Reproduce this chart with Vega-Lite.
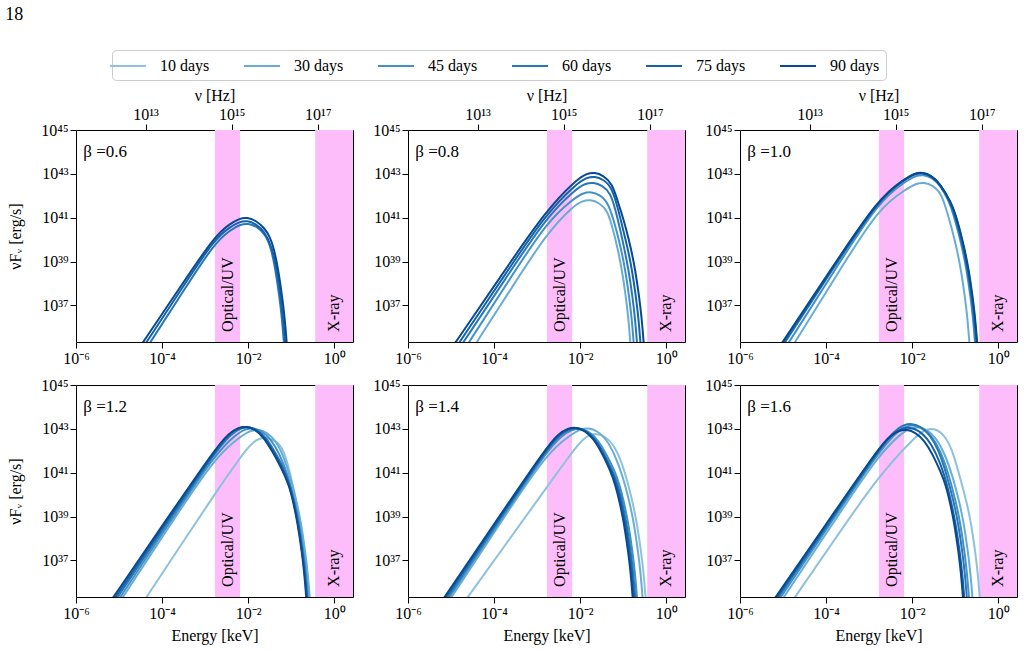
{
"$schema": "https://vega.github.io/schema/vega-lite/v6.json",
"background": "white",
"padding": {"left": 5, "top": 5, "right": 5, "bottom": 5},
"title": {"text": "18", "anchor": "start", "frame": "bounds", "font": "Liberation Serif", "fontSize": 18, "fontWeight": "normal", "color": "black", "offset": 26, "dx": -2},
"datasets": {
"bands": [
{"band": "Optical/UV", "logE0": -2.773, "logE1": -2.188, "logEc": -2.48, "logLt": 35.79},
{"band": "X-ray", "logE0": -0.443, "logE1": 1, "logEc": 0.0, "logLt": 35.79}
],
"curves": [
{"beta":0.6,"days":"60 days","logE":-4.42,"logL":34.87},{"beta":0.6,"days":"60 days","logE":-4.27,"logL":35.33},{"beta":0.6,"days":"60 days","logE":-3.52,"logL":37.61},{"beta":0.6,"days":"60 days","logE":-2.77,"logL":39.89},{"beta":0.6,"days":"60 days","logE":-2.40,"logL":40.45},{"beta":0.6,"days":"60 days","logE":-2.20,"logL":40.68},{"beta":0.6,"days":"60 days","logE":-2.00,"logL":40.75},{"beta":0.6,"days":"60 days","logE":-1.80,"logL":40.60},{"beta":0.6,"days":"60 days","logE":-1.60,"logL":40.25},{"beta":0.6,"days":"60 days","logE":-1.47,"logL":39.63},{"beta":0.6,"days":"60 days","logE":-1.37,"logL":38.68},{"beta":0.6,"days":"60 days","logE":-1.27,"logL":37.33},{"beta":0.6,"days":"60 days","logE":-1.22,"logL":36.48},{"beta":0.6,"days":"60 days","logE":-1.17,"logL":35.33},{"beta":0.6,"days":"60 days","logE":-1.13,"logL":34.23},
{"beta":0.6,"days":"75 days","logE":-4.51,"logL":34.88},{"beta":0.6,"days":"75 days","logE":-4.36,"logL":35.33},{"beta":0.6,"days":"75 days","logE":-3.565,"logL":37.70},{"beta":0.6,"days":"75 days","logE":-2.77,"logL":40.07},{"beta":0.6,"days":"75 days","logE":-2.42,"logL":40.57},{"beta":0.6,"days":"75 days","logE":-2.22,"logL":40.80},{"beta":0.6,"days":"75 days","logE":-2.02,"logL":40.87},{"beta":0.6,"days":"75 days","logE":-1.82,"logL":40.72},{"beta":0.6,"days":"75 days","logE":-1.62,"logL":40.37},{"beta":0.6,"days":"75 days","logE":-1.44,"logL":39.63},{"beta":0.6,"days":"75 days","logE":-1.34,"logL":38.68},{"beta":0.6,"days":"75 days","logE":-1.24,"logL":37.33},{"beta":0.6,"days":"75 days","logE":-1.19,"logL":36.48},{"beta":0.6,"days":"75 days","logE":-1.14,"logL":35.33},{"beta":0.6,"days":"75 days","logE":-1.10,"logL":34.23},
{"beta":0.6,"days":"90 days","logE":-4.59,"logL":34.89},{"beta":0.6,"days":"90 days","logE":-4.44,"logL":35.33},{"beta":0.6,"days":"90 days","logE":-3.605,"logL":37.76},{"beta":0.6,"days":"90 days","logE":-2.77,"logL":40.19},{"beta":0.6,"days":"90 days","logE":-2.42,"logL":40.72},{"beta":0.6,"days":"90 days","logE":-2.22,"logL":40.95},{"beta":0.6,"days":"90 days","logE":-2.02,"logL":41.02},{"beta":0.6,"days":"90 days","logE":-1.82,"logL":40.87},{"beta":0.6,"days":"90 days","logE":-1.62,"logL":40.52},{"beta":0.6,"days":"90 days","logE":-1.505,"logL":40.17},{"beta":0.6,"days":"90 days","logE":-1.405,"logL":39.63},{"beta":0.6,"days":"90 days","logE":-1.305,"logL":38.68},{"beta":0.6,"days":"90 days","logE":-1.205,"logL":37.33},{"beta":0.6,"days":"90 days","logE":-1.155,"logL":36.48},{"beta":0.6,"days":"90 days","logE":-1.105,"logL":35.33},{"beta":0.6,"days":"90 days","logE":-1.065,"logL":34.23},

{"beta":0.8,"days":"30 days","logE":-4.55,"logL":34.87},{"beta":0.8,"days":"30 days","logE":-4.40,"logL":35.33},{"beta":0.8,"days":"30 days","logE":-3.585,"logL":37.82},{"beta":0.8,"days":"30 days","logE":-2.77,"logL":40.31},{"beta":0.8,"days":"30 days","logE":-2.16,"logL":41.53},{"beta":0.8,"days":"30 days","logE":-1.96,"logL":41.76},{"beta":0.8,"days":"30 days","logE":-1.76,"logL":41.83},{"beta":0.8,"days":"30 days","logE":-1.56,"logL":41.68},{"beta":0.8,"days":"30 days","logE":-1.36,"logL":41.33},{"beta":0.8,"days":"30 days","logE":-1.234,"logL":40.43},{"beta":0.8,"days":"30 days","logE":-1.134,"logL":39.63},{"beta":0.8,"days":"30 days","logE":-1.034,"logL":38.68},{"beta":0.8,"days":"30 days","logE":-0.934,"logL":37.33},{"beta":0.8,"days":"30 days","logE":-0.884,"logL":36.48},{"beta":0.8,"days":"30 days","logE":-0.834,"logL":35.33},{"beta":0.8,"days":"30 days","logE":-0.794,"logL":34.23},
{"beta":0.8,"days":"45 days","logE":-4.73,"logL":34.87},{"beta":0.8,"days":"45 days","logE":-4.58,"logL":35.33},{"beta":0.8,"days":"45 days","logE":-3.675,"logL":38.08},{"beta":0.8,"days":"45 days","logE":-2.77,"logL":40.83},{"beta":0.8,"days":"45 days","logE":-2.14,"logL":41.89},{"beta":0.8,"days":"45 days","logE":-1.94,"logL":42.12},{"beta":0.8,"days":"45 days","logE":-1.74,"logL":42.19},{"beta":0.8,"days":"45 days","logE":-1.54,"logL":42.04},{"beta":0.8,"days":"45 days","logE":-1.34,"logL":41.69},{"beta":0.8,"days":"45 days","logE":-1.157,"logL":40.43},{"beta":0.8,"days":"45 days","logE":-1.057,"logL":39.63},{"beta":0.8,"days":"45 days","logE":-0.957,"logL":38.68},{"beta":0.8,"days":"45 days","logE":-0.857,"logL":37.33},{"beta":0.8,"days":"45 days","logE":-0.807,"logL":36.48},{"beta":0.8,"days":"45 days","logE":-0.757,"logL":35.33},{"beta":0.8,"days":"45 days","logE":-0.717,"logL":34.23},
{"beta":0.8,"days":"60 days","logE":-4.86,"logL":34.89},{"beta":0.8,"days":"60 days","logE":-4.71,"logL":35.33},{"beta":0.8,"days":"60 days","logE":-3.74,"logL":38.20},{"beta":0.8,"days":"60 days","logE":-2.77,"logL":41.07},{"beta":0.8,"days":"60 days","logE":-2.09,"logL":42.32},{"beta":0.8,"days":"60 days","logE":-1.89,"logL":42.55},{"beta":0.8,"days":"60 days","logE":-1.69,"logL":42.62},{"beta":0.8,"days":"60 days","logE":-1.49,"logL":42.47},{"beta":0.8,"days":"60 days","logE":-1.29,"logL":42.12},{"beta":0.8,"days":"60 days","logE":-1.18,"logL":41.35},{"beta":0.8,"days":"60 days","logE":-1.08,"logL":40.55},{"beta":0.8,"days":"60 days","logE":-0.98,"logL":39.63},{"beta":0.8,"days":"60 days","logE":-0.88,"logL":38.68},{"beta":0.8,"days":"60 days","logE":-0.78,"logL":37.33},{"beta":0.8,"days":"60 days","logE":-0.73,"logL":36.48},{"beta":0.8,"days":"60 days","logE":-0.68,"logL":35.33},{"beta":0.8,"days":"60 days","logE":-0.64,"logL":34.23},
{"beta":0.8,"days":"75 days","logE":-4.95,"logL":34.89},{"beta":0.8,"days":"75 days","logE":-4.80,"logL":35.33},{"beta":0.8,"days":"75 days","logE":-3.785,"logL":38.29},{"beta":0.8,"days":"75 days","logE":-2.77,"logL":41.25},{"beta":0.8,"days":"75 days","logE":-2.06,"logL":42.59},{"beta":0.8,"days":"75 days","logE":-1.86,"logL":42.82},{"beta":0.8,"days":"75 days","logE":-1.66,"logL":42.89},{"beta":0.8,"days":"75 days","logE":-1.46,"logL":42.74},{"beta":0.8,"days":"75 days","logE":-1.26,"logL":42.39},{"beta":0.8,"days":"75 days","logE":-1.10,"logL":41.25},{"beta":0.8,"days":"75 days","logE":-1.00,"logL":40.43},{"beta":0.8,"days":"75 days","logE":-0.90,"logL":39.63},{"beta":0.8,"days":"75 days","logE":-0.80,"logL":38.68},{"beta":0.8,"days":"75 days","logE":-0.70,"logL":37.33},{"beta":0.8,"days":"75 days","logE":-0.65,"logL":36.48},{"beta":0.8,"days":"75 days","logE":-0.60,"logL":35.33},{"beta":0.8,"days":"75 days","logE":-0.56,"logL":34.23},
{"beta":0.8,"days":"90 days","logE":-5.04,"logL":34.90},{"beta":0.8,"days":"90 days","logE":-4.89,"logL":35.33},{"beta":0.8,"days":"90 days","logE":-3.83,"logL":38.37},{"beta":0.8,"days":"90 days","logE":-2.77,"logL":41.40},{"beta":0.8,"days":"90 days","logE":-2.06,"logL":42.77},{"beta":0.8,"days":"90 days","logE":-1.86,"logL":43.00},{"beta":0.8,"days":"90 days","logE":-1.66,"logL":43.07},{"beta":0.8,"days":"90 days","logE":-1.46,"logL":42.92},{"beta":0.8,"days":"90 days","logE":-1.26,"logL":42.57},{"beta":0.8,"days":"90 days","logE":-1.125,"logL":41.73},{"beta":0.8,"days":"90 days","logE":-1.025,"logL":41.13},{"beta":0.8,"days":"90 days","logE":-0.925,"logL":40.43},{"beta":0.8,"days":"90 days","logE":-0.825,"logL":39.63},{"beta":0.8,"days":"90 days","logE":-0.725,"logL":38.68},{"beta":0.8,"days":"90 days","logE":-0.625,"logL":37.33},{"beta":0.8,"days":"90 days","logE":-0.575,"logL":36.48},{"beta":0.8,"days":"90 days","logE":-0.525,"logL":35.33},{"beta":0.8,"days":"90 days","logE":-0.485,"logL":34.23},

{"beta":1.0,"days":"30 days","logE":-4.87,"logL":34.86},{"beta":1.0,"days":"30 days","logE":-4.72,"logL":35.33},{"beta":1.0,"days":"30 days","logE":-3.745,"logL":38.41},{"beta":1.0,"days":"30 days","logE":-2.77,"logL":41.48},{"beta":1.0,"days":"30 days","logE":-2.12,"logL":42.32},{"beta":1.0,"days":"30 days","logE":-1.92,"logL":42.55},{"beta":1.0,"days":"30 days","logE":-1.72,"logL":42.62},{"beta":1.0,"days":"30 days","logE":-1.52,"logL":42.47},{"beta":1.0,"days":"30 days","logE":-1.32,"logL":42.12},{"beta":1.0,"days":"30 days","logE":-1.17,"logL":41.13},{"beta":1.0,"days":"30 days","logE":-1.07,"logL":40.43},{"beta":1.0,"days":"30 days","logE":-0.97,"logL":39.63},{"beta":1.0,"days":"30 days","logE":-0.87,"logL":38.68},{"beta":1.0,"days":"30 days","logE":-0.77,"logL":37.33},{"beta":1.0,"days":"30 days","logE":-0.72,"logL":36.48},{"beta":1.0,"days":"30 days","logE":-0.67,"logL":35.33},{"beta":1.0,"days":"30 days","logE":-0.63,"logL":34.23},
{"beta":1.0,"days":"45 days","logE":-5.01,"logL":34.87},{"beta":1.0,"days":"45 days","logE":-4.86,"logL":35.33},{"beta":1.0,"days":"45 days","logE":-3.815,"logL":38.56},{"beta":1.0,"days":"45 days","logE":-2.77,"logL":41.78},{"beta":1.0,"days":"45 days","logE":-2.14,"logL":42.67},{"beta":1.0,"days":"45 days","logE":-1.94,"logL":42.90},{"beta":1.0,"days":"45 days","logE":-1.74,"logL":42.97},{"beta":1.0,"days":"45 days","logE":-1.54,"logL":42.82},{"beta":1.0,"days":"45 days","logE":-1.34,"logL":42.47},{"beta":1.0,"days":"45 days","logE":-1.14,"logL":41.73},{"beta":1.0,"days":"45 days","logE":-1.04,"logL":41.13},{"beta":1.0,"days":"45 days","logE":-0.94,"logL":40.43},{"beta":1.0,"days":"45 days","logE":-0.84,"logL":39.63},{"beta":1.0,"days":"45 days","logE":-0.74,"logL":38.68},{"beta":1.0,"days":"45 days","logE":-0.64,"logL":37.33},{"beta":1.0,"days":"45 days","logE":-0.59,"logL":36.48},{"beta":1.0,"days":"45 days","logE":-0.54,"logL":35.33},{"beta":1.0,"days":"45 days","logE":-0.50,"logL":34.23},
{"beta":1.0,"days":"60 days","logE":-5.10,"logL":34.88},{"beta":1.0,"days":"60 days","logE":-4.95,"logL":35.33},{"beta":1.0,"days":"60 days","logE":-3.86,"logL":38.60},{"beta":1.0,"days":"60 days","logE":-2.77,"logL":41.87},{"beta":1.0,"days":"60 days","logE":-2.16,"logL":42.75},{"beta":1.0,"days":"60 days","logE":-1.96,"logL":42.98},{"beta":1.0,"days":"60 days","logE":-1.76,"logL":43.05},{"beta":1.0,"days":"60 days","logE":-1.56,"logL":42.90},{"beta":1.0,"days":"60 days","logE":-1.36,"logL":42.55},{"beta":1.0,"days":"60 days","logE":-1.12,"logL":41.73},{"beta":1.0,"days":"60 days","logE":-1.02,"logL":41.13},{"beta":1.0,"days":"60 days","logE":-0.92,"logL":40.43},{"beta":1.0,"days":"60 days","logE":-0.82,"logL":39.63},{"beta":1.0,"days":"60 days","logE":-0.72,"logL":38.68},{"beta":1.0,"days":"60 days","logE":-0.62,"logL":37.33},{"beta":1.0,"days":"60 days","logE":-0.57,"logL":36.48},{"beta":1.0,"days":"60 days","logE":-0.52,"logL":35.33},{"beta":1.0,"days":"60 days","logE":-0.48,"logL":34.23},
{"beta":1.0,"days":"75 days","logE":-5.13,"logL":34.88},{"beta":1.0,"days":"75 days","logE":-4.98,"logL":35.33},{"beta":1.0,"days":"75 days","logE":-3.875,"logL":38.62},{"beta":1.0,"days":"75 days","logE":-2.77,"logL":41.90},{"beta":1.0,"days":"75 days","logE":-2.16,"logL":42.77},{"beta":1.0,"days":"75 days","logE":-1.96,"logL":43.00},{"beta":1.0,"days":"75 days","logE":-1.76,"logL":43.07},{"beta":1.0,"days":"75 days","logE":-1.56,"logL":42.92},{"beta":1.0,"days":"75 days","logE":-1.36,"logL":42.57},{"beta":1.0,"days":"75 days","logE":-1.10,"logL":41.71},{"beta":1.0,"days":"75 days","logE":-1.00,"logL":41.13},{"beta":1.0,"days":"75 days","logE":-0.90,"logL":40.43},{"beta":1.0,"days":"75 days","logE":-0.80,"logL":39.63},{"beta":1.0,"days":"75 days","logE":-0.70,"logL":38.68},{"beta":1.0,"days":"75 days","logE":-0.60,"logL":37.33},{"beta":1.0,"days":"75 days","logE":-0.55,"logL":36.48},{"beta":1.0,"days":"75 days","logE":-0.50,"logL":35.33},{"beta":1.0,"days":"75 days","logE":-0.46,"logL":34.23},
{"beta":1.0,"days":"90 days","logE":-5.16,"logL":34.89},{"beta":1.0,"days":"90 days","logE":-5.01,"logL":35.33},{"beta":1.0,"days":"90 days","logE":-3.89,"logL":38.63},{"beta":1.0,"days":"90 days","logE":-2.77,"logL":41.93},{"beta":1.0,"days":"90 days","logE":-2.16,"logL":42.78},{"beta":1.0,"days":"90 days","logE":-1.96,"logL":43.01},{"beta":1.0,"days":"90 days","logE":-1.76,"logL":43.08},{"beta":1.0,"days":"90 days","logE":-1.56,"logL":42.93},{"beta":1.0,"days":"90 days","logE":-1.36,"logL":42.58},{"beta":1.0,"days":"90 days","logE":-1.09,"logL":41.68},{"beta":1.0,"days":"90 days","logE":-0.99,"logL":41.13},{"beta":1.0,"days":"90 days","logE":-0.89,"logL":40.43},{"beta":1.0,"days":"90 days","logE":-0.79,"logL":39.63},{"beta":1.0,"days":"90 days","logE":-0.69,"logL":38.68},{"beta":1.0,"days":"90 days","logE":-0.59,"logL":37.33},{"beta":1.0,"days":"90 days","logE":-0.54,"logL":36.48},{"beta":1.0,"days":"90 days","logE":-0.49,"logL":35.33},{"beta":1.0,"days":"90 days","logE":-0.45,"logL":34.23},

{"beta":1.2,"days":"10 days","logE":-4.51,"logL":34.88},{"beta":1.2,"days":"10 days","logE":-4.36,"logL":35.33},{"beta":1.2,"days":"10 days","logE":-3.565,"logL":37.69},{"beta":1.2,"days":"10 days","logE":-2.77,"logL":40.05},{"beta":1.2,"days":"10 days","logE":-1.97,"logL":42.31},{"beta":1.2,"days":"10 days","logE":-1.77,"logL":42.54},{"beta":1.2,"days":"10 days","logE":-1.57,"logL":42.61},{"beta":1.2,"days":"10 days","logE":-1.37,"logL":42.46},{"beta":1.2,"days":"10 days","logE":-1.17,"logL":42.11},{"beta":1.2,"days":"10 days","logE":-0.98,"logL":40.60},{"beta":1.2,"days":"10 days","logE":-0.88,"logL":39.63},{"beta":1.2,"days":"10 days","logE":-0.78,"logL":38.68},{"beta":1.2,"days":"10 days","logE":-0.68,"logL":37.33},{"beta":1.2,"days":"10 days","logE":-0.63,"logL":36.48},{"beta":1.2,"days":"10 days","logE":-0.58,"logL":35.33},{"beta":1.2,"days":"10 days","logE":-0.54,"logL":34.23},
{"beta":1.2,"days":"30 days","logE":-5.06,"logL":34.88},{"beta":1.2,"days":"30 days","logE":-4.91,"logL":35.33},{"beta":1.2,"days":"30 days","logE":-3.84,"logL":38.53},{"beta":1.2,"days":"30 days","logE":-2.77,"logL":41.72},{"beta":1.2,"days":"30 days","logE":-2.16,"logL":42.68},{"beta":1.2,"days":"30 days","logE":-1.96,"logL":42.91},{"beta":1.2,"days":"30 days","logE":-1.76,"logL":42.98},{"beta":1.2,"days":"30 days","logE":-1.56,"logL":42.83},{"beta":1.2,"days":"30 days","logE":-1.36,"logL":42.48},{"beta":1.2,"days":"30 days","logE":-1.16,"logL":41.68},{"beta":1.2,"days":"30 days","logE":-0.97,"logL":40.43},{"beta":1.2,"days":"30 days","logE":-0.87,"logL":39.63},{"beta":1.2,"days":"30 days","logE":-0.77,"logL":38.68},{"beta":1.2,"days":"30 days","logE":-0.67,"logL":37.33},{"beta":1.2,"days":"30 days","logE":-0.62,"logL":36.48},{"beta":1.2,"days":"30 days","logE":-0.57,"logL":35.33},{"beta":1.2,"days":"30 days","logE":-0.53,"logL":34.23},
{"beta":1.2,"days":"45 days","logE":-5.12,"logL":34.89},{"beta":1.2,"days":"45 days","logE":-4.97,"logL":35.33},{"beta":1.2,"days":"45 days","logE":-3.87,"logL":38.59},{"beta":1.2,"days":"45 days","logE":-2.77,"logL":41.85},{"beta":1.2,"days":"45 days","logE":-2.28,"logL":42.75},{"beta":1.2,"days":"45 days","logE":-2.08,"logL":42.98},{"beta":1.2,"days":"45 days","logE":-1.88,"logL":43.05},{"beta":1.2,"days":"45 days","logE":-1.68,"logL":42.90},{"beta":1.2,"days":"45 days","logE":-1.48,"logL":42.55},{"beta":1.2,"days":"45 days","logE":-1.28,"logL":41.90},{"beta":1.2,"days":"45 days","logE":-1.08,"logL":40.93},{"beta":1.2,"days":"45 days","logE":-0.91,"logL":39.63},{"beta":1.2,"days":"45 days","logE":-0.81,"logL":38.68},{"beta":1.2,"days":"45 days","logE":-0.71,"logL":37.33},{"beta":1.2,"days":"45 days","logE":-0.66,"logL":36.48},{"beta":1.2,"days":"45 days","logE":-0.61,"logL":35.33},{"beta":1.2,"days":"45 days","logE":-0.57,"logL":34.23},
{"beta":1.2,"days":"60 days","logE":-5.18,"logL":34.89},{"beta":1.2,"days":"60 days","logE":-5.03,"logL":35.33},{"beta":1.2,"days":"60 days","logE":-3.90,"logL":38.64},{"beta":1.2,"days":"60 days","logE":-2.77,"logL":41.95},{"beta":1.2,"days":"60 days","logE":-2.38,"logL":42.80},{"beta":1.2,"days":"60 days","logE":-2.18,"logL":43.03},{"beta":1.2,"days":"60 days","logE":-1.98,"logL":43.10},{"beta":1.2,"days":"60 days","logE":-1.78,"logL":42.95},{"beta":1.2,"days":"60 days","logE":-1.58,"logL":42.60},{"beta":1.2,"days":"60 days","logE":-1.38,"logL":41.95},{"beta":1.2,"days":"60 days","logE":-1.18,"logL":41.25},{"beta":1.2,"days":"60 days","logE":-1.03,"logL":40.43},{"beta":1.2,"days":"60 days","logE":-0.93,"logL":39.63},{"beta":1.2,"days":"60 days","logE":-0.83,"logL":38.68},{"beta":1.2,"days":"60 days","logE":-0.73,"logL":37.33},{"beta":1.2,"days":"60 days","logE":-0.68,"logL":36.48},{"beta":1.2,"days":"60 days","logE":-0.63,"logL":35.33},{"beta":1.2,"days":"60 days","logE":-0.59,"logL":34.23},
{"beta":1.2,"days":"75 days","logE":-5.23,"logL":34.90},{"beta":1.2,"days":"75 days","logE":-5.08,"logL":35.33},{"beta":1.2,"days":"75 days","logE":-3.925,"logL":38.68},{"beta":1.2,"days":"75 days","logE":-2.77,"logL":42.02},{"beta":1.2,"days":"75 days","logE":-2.42,"logL":42.82},{"beta":1.2,"days":"75 days","logE":-2.22,"logL":43.05},{"beta":1.2,"days":"75 days","logE":-2.02,"logL":43.12},{"beta":1.2,"days":"75 days","logE":-1.82,"logL":42.97},{"beta":1.2,"days":"75 days","logE":-1.62,"logL":42.62},{"beta":1.2,"days":"75 days","logE":-1.42,"logL":41.97},{"beta":1.2,"days":"75 days","logE":-1.22,"logL":41.27},{"beta":1.2,"days":"75 days","logE":-1.04,"logL":40.43},{"beta":1.2,"days":"75 days","logE":-0.94,"logL":39.63},{"beta":1.2,"days":"75 days","logE":-0.84,"logL":38.68},{"beta":1.2,"days":"75 days","logE":-0.74,"logL":37.33},{"beta":1.2,"days":"75 days","logE":-0.69,"logL":36.48},{"beta":1.2,"days":"75 days","logE":-0.64,"logL":35.33},{"beta":1.2,"days":"75 days","logE":-0.60,"logL":34.23},
{"beta":1.2,"days":"90 days","logE":-5.28,"logL":34.90},{"beta":1.2,"days":"90 days","logE":-5.13,"logL":35.33},{"beta":1.2,"days":"90 days","logE":-3.95,"logL":38.71},{"beta":1.2,"days":"90 days","logE":-2.77,"logL":42.09},{"beta":1.2,"days":"90 days","logE":-2.44,"logL":42.82},{"beta":1.2,"days":"90 days","logE":-2.24,"logL":43.05},{"beta":1.2,"days":"90 days","logE":-2.04,"logL":43.12},{"beta":1.2,"days":"90 days","logE":-1.84,"logL":42.97},{"beta":1.2,"days":"90 days","logE":-1.64,"logL":42.62},{"beta":1.2,"days":"90 days","logE":-1.44,"logL":41.97},{"beta":1.2,"days":"90 days","logE":-1.24,"logL":41.27},{"beta":1.2,"days":"90 days","logE":-1.05,"logL":40.43},{"beta":1.2,"days":"90 days","logE":-0.95,"logL":39.63},{"beta":1.2,"days":"90 days","logE":-0.85,"logL":38.68},{"beta":1.2,"days":"90 days","logE":-0.75,"logL":37.33},{"beta":1.2,"days":"90 days","logE":-0.70,"logL":36.48},{"beta":1.2,"days":"90 days","logE":-0.65,"logL":35.33},{"beta":1.2,"days":"90 days","logE":-0.61,"logL":34.23},

{"beta":1.4,"days":"10 days","logE":-4.76,"logL":34.92},{"beta":1.4,"days":"10 days","logE":-4.61,"logL":35.33},{"beta":1.4,"days":"10 days","logE":-3.69,"logL":37.84},{"beta":1.4,"days":"10 days","logE":-2.77,"logL":40.35},{"beta":1.4,"days":"10 days","logE":-2.02,"logL":42.40},{"beta":1.4,"days":"10 days","logE":-1.82,"logL":42.70},{"beta":1.4,"days":"10 days","logE":-1.62,"logL":42.80},{"beta":1.4,"days":"10 days","logE":-1.42,"logL":42.65},{"beta":1.4,"days":"10 days","logE":-1.22,"logL":42.30},{"beta":1.4,"days":"10 days","logE":-1.02,"logL":41.40},{"beta":1.4,"days":"10 days","logE":-0.88,"logL":40.43},{"beta":1.4,"days":"10 days","logE":-0.78,"logL":39.63},{"beta":1.4,"days":"10 days","logE":-0.68,"logL":38.68},{"beta":1.4,"days":"10 days","logE":-0.58,"logL":37.33},{"beta":1.4,"days":"10 days","logE":-0.53,"logL":36.48},{"beta":1.4,"days":"10 days","logE":-0.48,"logL":35.33},{"beta":1.4,"days":"10 days","logE":-0.44,"logL":34.23},
{"beta":1.4,"days":"30 days","logE":-5.14,"logL":34.88},{"beta":1.4,"days":"30 days","logE":-4.99,"logL":35.33},{"beta":1.4,"days":"30 days","logE":-3.88,"logL":38.63},{"beta":1.4,"days":"30 days","logE":-2.77,"logL":41.93},{"beta":1.4,"days":"30 days","logE":-2.20,"logL":42.75},{"beta":1.4,"days":"30 days","logE":-2.00,"logL":42.98},{"beta":1.4,"days":"30 days","logE":-1.80,"logL":43.05},{"beta":1.4,"days":"30 days","logE":-1.60,"logL":42.90},{"beta":1.4,"days":"30 days","logE":-1.40,"logL":42.55},{"beta":1.4,"days":"30 days","logE":-1.20,"logL":41.85},{"beta":1.4,"days":"30 days","logE":-1.00,"logL":40.78},{"beta":1.4,"days":"30 days","logE":-0.85,"logL":39.63},{"beta":1.4,"days":"30 days","logE":-0.75,"logL":38.68},{"beta":1.4,"days":"30 days","logE":-0.65,"logL":37.33},{"beta":1.4,"days":"30 days","logE":-0.60,"logL":36.48},{"beta":1.4,"days":"30 days","logE":-0.55,"logL":35.33},{"beta":1.4,"days":"30 days","logE":-0.51,"logL":34.23},
{"beta":1.4,"days":"45 days","logE":-5.19,"logL":34.89},{"beta":1.4,"days":"45 days","logE":-5.04,"logL":35.33},{"beta":1.4,"days":"45 days","logE":-3.905,"logL":38.68},{"beta":1.4,"days":"45 days","logE":-2.77,"logL":42.03},{"beta":1.4,"days":"45 days","logE":-2.40,"logL":42.73},{"beta":1.4,"days":"45 days","logE":-2.20,"logL":42.96},{"beta":1.4,"days":"45 days","logE":-2.00,"logL":43.03},{"beta":1.4,"days":"45 days","logE":-1.80,"logL":42.88},{"beta":1.4,"days":"45 days","logE":-1.60,"logL":42.53},{"beta":1.4,"days":"45 days","logE":-1.40,"logL":41.88},{"beta":1.4,"days":"45 days","logE":-1.20,"logL":41.10},{"beta":1.4,"days":"45 days","logE":-1.08,"logL":40.43},{"beta":1.4,"days":"45 days","logE":-0.98,"logL":39.63},{"beta":1.4,"days":"45 days","logE":-0.88,"logL":38.68},{"beta":1.4,"days":"45 days","logE":-0.78,"logL":37.33},{"beta":1.4,"days":"45 days","logE":-0.73,"logL":36.48},{"beta":1.4,"days":"45 days","logE":-0.68,"logL":35.33},{"beta":1.4,"days":"45 days","logE":-0.64,"logL":34.23},
{"beta":1.4,"days":"60 days","logE":-5.23,"logL":34.89},{"beta":1.4,"days":"60 days","logE":-5.08,"logL":35.33},{"beta":1.4,"days":"60 days","logE":-3.925,"logL":38.72},{"beta":1.4,"days":"60 days","logE":-2.77,"logL":42.10},{"beta":1.4,"days":"60 days","logE":-2.45,"logL":42.75},{"beta":1.4,"days":"60 days","logE":-2.25,"logL":42.98},{"beta":1.4,"days":"60 days","logE":-2.05,"logL":43.05},{"beta":1.4,"days":"60 days","logE":-1.85,"logL":42.90},{"beta":1.4,"days":"60 days","logE":-1.65,"logL":42.55},{"beta":1.4,"days":"60 days","logE":-1.45,"logL":41.90},{"beta":1.4,"days":"60 days","logE":-1.25,"logL":41.10},{"beta":1.4,"days":"60 days","logE":-1.12,"logL":40.43},{"beta":1.4,"days":"60 days","logE":-1.02,"logL":39.63},{"beta":1.4,"days":"60 days","logE":-0.92,"logL":38.68},{"beta":1.4,"days":"60 days","logE":-0.82,"logL":37.33},{"beta":1.4,"days":"60 days","logE":-0.77,"logL":36.48},{"beta":1.4,"days":"60 days","logE":-0.72,"logL":35.33},{"beta":1.4,"days":"60 days","logE":-0.68,"logL":34.23},
{"beta":1.4,"days":"75 days","logE":-5.27,"logL":34.90},{"beta":1.4,"days":"75 days","logE":-5.12,"logL":35.33},{"beta":1.4,"days":"75 days","logE":-3.945,"logL":38.74},{"beta":1.4,"days":"75 days","logE":-2.77,"logL":42.15},{"beta":1.4,"days":"75 days","logE":-2.48,"logL":42.77},{"beta":1.4,"days":"75 days","logE":-2.28,"logL":43.00},{"beta":1.4,"days":"75 days","logE":-2.08,"logL":43.07},{"beta":1.4,"days":"75 days","logE":-1.88,"logL":42.92},{"beta":1.4,"days":"75 days","logE":-1.68,"logL":42.57},{"beta":1.4,"days":"75 days","logE":-1.48,"logL":41.92},{"beta":1.4,"days":"75 days","logE":-1.28,"logL":41.10},{"beta":1.4,"days":"75 days","logE":-1.15,"logL":40.43},{"beta":1.4,"days":"75 days","logE":-1.05,"logL":39.63},{"beta":1.4,"days":"75 days","logE":-0.95,"logL":38.68},{"beta":1.4,"days":"75 days","logE":-0.85,"logL":37.33},{"beta":1.4,"days":"75 days","logE":-0.80,"logL":36.48},{"beta":1.4,"days":"75 days","logE":-0.75,"logL":35.33},{"beta":1.4,"days":"75 days","logE":-0.71,"logL":34.23},
{"beta":1.4,"days":"90 days","logE":-5.30,"logL":34.90},{"beta":1.4,"days":"90 days","logE":-5.15,"logL":35.33},{"beta":1.4,"days":"90 days","logE":-3.96,"logL":38.77},{"beta":1.4,"days":"90 days","logE":-2.77,"logL":42.20},{"beta":1.4,"days":"90 days","logE":-2.50,"logL":42.78},{"beta":1.4,"days":"90 days","logE":-2.30,"logL":43.01},{"beta":1.4,"days":"90 days","logE":-2.10,"logL":43.08},{"beta":1.4,"days":"90 days","logE":-1.90,"logL":42.93},{"beta":1.4,"days":"90 days","logE":-1.70,"logL":42.58},{"beta":1.4,"days":"90 days","logE":-1.50,"logL":41.93},{"beta":1.4,"days":"90 days","logE":-1.30,"logL":41.10},{"beta":1.4,"days":"90 days","logE":-1.18,"logL":40.43},{"beta":1.4,"days":"90 days","logE":-1.08,"logL":39.63},{"beta":1.4,"days":"90 days","logE":-0.98,"logL":38.68},{"beta":1.4,"days":"90 days","logE":-0.88,"logL":37.33},{"beta":1.4,"days":"90 days","logE":-0.83,"logL":36.48},{"beta":1.4,"days":"90 days","logE":-0.78,"logL":35.33},{"beta":1.4,"days":"90 days","logE":-0.74,"logL":34.23},

{"beta":1.6,"days":"10 days","logE":-4.87,"logL":34.90},{"beta":1.6,"days":"10 days","logE":-4.72,"logL":35.33},{"beta":1.6,"days":"10 days","logE":-3.745,"logL":38.11},{"beta":1.6,"days":"10 days","logE":-2.77,"logL":40.88},{"beta":1.6,"days":"10 days","logE":-1.89,"logL":42.73},{"beta":1.6,"days":"10 days","logE":-1.69,"logL":42.96},{"beta":1.6,"days":"10 days","logE":-1.49,"logL":43.03},{"beta":1.6,"days":"10 days","logE":-1.29,"logL":42.80},{"beta":1.6,"days":"10 days","logE":-1.09,"logL":42.20},{"beta":1.6,"days":"10 days","logE":-0.89,"logL":40.80},{"beta":1.6,"days":"10 days","logE":-0.73,"logL":39.63},{"beta":1.6,"days":"10 days","logE":-0.63,"logL":38.68},{"beta":1.6,"days":"10 days","logE":-0.53,"logL":37.33},{"beta":1.6,"days":"10 days","logE":-0.48,"logL":36.48},{"beta":1.6,"days":"10 days","logE":-0.43,"logL":35.33},{"beta":1.6,"days":"10 days","logE":-0.39,"logL":34.23},
{"beta":1.6,"days":"30 days","logE":-5.13,"logL":34.89},{"beta":1.6,"days":"30 days","logE":-4.98,"logL":35.33},{"beta":1.6,"days":"30 days","logE":-3.875,"logL":38.59},{"beta":1.6,"days":"30 days","logE":-2.77,"logL":41.85},{"beta":1.6,"days":"30 days","logE":-2.25,"logL":42.80},{"beta":1.6,"days":"30 days","logE":-2.05,"logL":43.03},{"beta":1.6,"days":"30 days","logE":-1.85,"logL":43.10},{"beta":1.6,"days":"30 days","logE":-1.65,"logL":42.95},{"beta":1.6,"days":"30 days","logE":-1.45,"logL":42.60},{"beta":1.6,"days":"30 days","logE":-1.25,"logL":41.90},{"beta":1.6,"days":"30 days","logE":-1.05,"logL":40.78},{"beta":1.6,"days":"30 days","logE":-0.90,"logL":39.63},{"beta":1.6,"days":"30 days","logE":-0.80,"logL":38.68},{"beta":1.6,"days":"30 days","logE":-0.70,"logL":37.33},{"beta":1.6,"days":"30 days","logE":-0.65,"logL":36.48},{"beta":1.6,"days":"30 days","logE":-0.60,"logL":35.33},{"beta":1.6,"days":"30 days","logE":-0.56,"logL":34.23},
{"beta":1.6,"days":"45 days","logE":-5.20,"logL":34.89},{"beta":1.6,"days":"45 days","logE":-5.05,"logL":35.33},{"beta":1.6,"days":"45 days","logE":-3.91,"logL":38.66},{"beta":1.6,"days":"45 days","logE":-2.77,"logL":41.98},{"beta":1.6,"days":"45 days","logE":-2.35,"logL":42.88},{"beta":1.6,"days":"45 days","logE":-2.15,"logL":43.11},{"beta":1.6,"days":"45 days","logE":-1.95,"logL":43.18},{"beta":1.6,"days":"45 days","logE":-1.75,"logL":43.03},{"beta":1.6,"days":"45 days","logE":-1.55,"logL":42.68},{"beta":1.6,"days":"45 days","logE":-1.35,"logL":42.03},{"beta":1.6,"days":"45 days","logE":-1.15,"logL":40.93},{"beta":1.6,"days":"45 days","logE":-0.98,"logL":39.63},{"beta":1.6,"days":"45 days","logE":-0.88,"logL":38.68},{"beta":1.6,"days":"45 days","logE":-0.78,"logL":37.33},{"beta":1.6,"days":"45 days","logE":-0.73,"logL":36.48},{"beta":1.6,"days":"45 days","logE":-0.68,"logL":35.33},{"beta":1.6,"days":"45 days","logE":-0.64,"logL":34.23},
{"beta":1.6,"days":"60 days","logE":-5.25,"logL":34.90},{"beta":1.6,"days":"60 days","logE":-5.10,"logL":35.33},{"beta":1.6,"days":"60 days","logE":-3.935,"logL":38.69},{"beta":1.6,"days":"60 days","logE":-2.77,"logL":42.05},{"beta":1.6,"days":"60 days","logE":-2.40,"logL":42.95},{"beta":1.6,"days":"60 days","logE":-2.20,"logL":43.18},{"beta":1.6,"days":"60 days","logE":-2.00,"logL":43.25},{"beta":1.6,"days":"60 days","logE":-1.80,"logL":43.10},{"beta":1.6,"days":"60 days","logE":-1.60,"logL":42.75},{"beta":1.6,"days":"60 days","logE":-1.40,"logL":42.10},{"beta":1.6,"days":"60 days","logE":-1.20,"logL":40.93},{"beta":1.6,"days":"60 days","logE":-1.03,"logL":39.63},{"beta":1.6,"days":"60 days","logE":-0.93,"logL":38.68},{"beta":1.6,"days":"60 days","logE":-0.83,"logL":37.33},{"beta":1.6,"days":"60 days","logE":-0.78,"logL":36.48},{"beta":1.6,"days":"60 days","logE":-0.73,"logL":35.33},{"beta":1.6,"days":"60 days","logE":-0.69,"logL":34.23},
{"beta":1.6,"days":"75 days","logE":-5.29,"logL":34.90},{"beta":1.6,"days":"75 days","logE":-5.14,"logL":35.33},{"beta":1.6,"days":"75 days","logE":-3.955,"logL":38.72},{"beta":1.6,"days":"75 days","logE":-2.77,"logL":42.10},{"beta":1.6,"days":"75 days","logE":-2.45,"logL":42.78},{"beta":1.6,"days":"75 days","logE":-2.25,"logL":43.01},{"beta":1.6,"days":"75 days","logE":-2.05,"logL":43.08},{"beta":1.6,"days":"75 days","logE":-1.85,"logL":42.93},{"beta":1.6,"days":"75 days","logE":-1.65,"logL":42.58},{"beta":1.6,"days":"75 days","logE":-1.45,"logL":41.93},{"beta":1.6,"days":"75 days","logE":-1.25,"logL":40.93},{"beta":1.6,"days":"75 days","logE":-1.09,"logL":39.63},{"beta":1.6,"days":"75 days","logE":-0.99,"logL":38.68},{"beta":1.6,"days":"75 days","logE":-0.89,"logL":37.33},{"beta":1.6,"days":"75 days","logE":-0.84,"logL":36.48},{"beta":1.6,"days":"75 days","logE":-0.79,"logL":35.33},{"beta":1.6,"days":"75 days","logE":-0.75,"logL":34.23},
{"beta":1.6,"days":"90 days","logE":-5.32,"logL":34.90},{"beta":1.6,"days":"90 days","logE":-5.17,"logL":35.33},{"beta":1.6,"days":"90 days","logE":-3.97,"logL":38.74},{"beta":1.6,"days":"90 days","logE":-2.77,"logL":42.15},{"beta":1.6,"days":"90 days","logE":-2.52,"logL":42.68},{"beta":1.6,"days":"90 days","logE":-2.32,"logL":42.91},{"beta":1.6,"days":"90 days","logE":-2.12,"logL":42.98},{"beta":1.6,"days":"90 days","logE":-1.92,"logL":42.83},{"beta":1.6,"days":"90 days","logE":-1.72,"logL":42.48},{"beta":1.6,"days":"90 days","logE":-1.52,"logL":41.83},{"beta":1.6,"days":"90 days","logE":-1.32,"logL":40.95},{"beta":1.6,"days":"90 days","logE":-1.22,"logL":40.43},{"beta":1.6,"days":"90 days","logE":-1.12,"logL":39.63},{"beta":1.6,"days":"90 days","logE":-1.02,"logL":38.68},{"beta":1.6,"days":"90 days","logE":-0.92,"logL":37.33},{"beta":1.6,"days":"90 days","logE":-0.87,"logL":36.48},{"beta":1.6,"days":"90 days","logE":-0.82,"logL":35.33},{"beta":1.6,"days":"90 days","logE":-0.78,"logL":34.23}
]
},
"columns": 3,
"spacing": {"row": 43, "column": 55},
"bounds": "flush",
"concat": [
{"width": 277, "height": 212, "layer": [
 {"data": {"name": "bands"}, "mark": {"type": "rect", "color": "#fdbdfb", "clip": true}, "encoding": {"x": {"field": "logE0", "type": "quantitative", "scale": {"domain": [-6, 0.435], "nice": false, "zero": false}, "axis": {"orient": "top", "values": [-4.3834, -2.3834, -0.3834], "labelExpr": "datum.value < -3 ? '10¹³' : datum.value < -1 ? '10¹⁵' : '10¹⁷'", "title": "ν [Hz]", "titlePadding": 3}}, "x2": {"field": "logE1"}}},
 {"data": {"name": "bands"}, "mark": {"type": "text", "angle": 270, "align": "left", "baseline": "middle", "font": "Liberation Serif", "fontSize": 16, "color": "black"}, "encoding": {"x": {"field": "logEc", "type": "quantitative", "scale": {"domain": [-6, 0.435], "nice": false, "zero": false}, "axis": null}, "y": {"field": "logLt", "type": "quantitative", "scale": {"domain": [35.33, 45], "nice": false, "zero": false}, "axis": {"values": [37, 39, 41, 43, 45], "labelExpr": "'10' + (datum.value == 37 ? '³⁷' : datum.value == 39 ? '³⁹' : datum.value == 41 ? '⁴¹' : datum.value == 43 ? '⁴³' : '⁴⁵')", "title": "νFᵥ [erg/s]", "titlePadding": 17}}, "text": {"field": "band"}}},
 {"data": {"name": "curves"}, "transform": [{"filter": "datum.beta == 0.6"}], "mark": {"type": "line", "strokeWidth": 2, "clip": true, "interpolate": "basis"}, "encoding": {"x": {"field": "logE", "type": "quantitative", "scale": {"domain": [-6, 0.435], "nice": false, "zero": false}, "axis": {"orient": "bottom", "values": [-6, -4, -2, 0], "labelExpr": "datum.value == -6 ? '10⁻⁶' : datum.value == -4 ? '10⁻⁴' : datum.value == -2 ? '10⁻²' : '10⁰'", "title": null}}, "y": {"field": "logL", "type": "quantitative", "scale": {"domain": [35.33, 45], "nice": false, "zero": false}, "axis": {"values": [37, 39, 41, 43, 45], "labelExpr": "'10' + (datum.value == 37 ? '³⁷' : datum.value == 39 ? '³⁹' : datum.value == 41 ? '⁴¹' : datum.value == 43 ? '⁴³' : '⁴⁵')", "title": "νFᵥ [erg/s]", "titlePadding": 17}}, "color": {"field": "days", "type": "nominal", "scale": {"domain": ["10 days", "30 days", "45 days", "60 days", "75 days", "90 days"], "range": ["#8ec1de", "#69add5", "#4292c6", "#2878b8", "#1462a8", "#084a91"]}, "legend": {"orient": "none", "legendX": 36, "legendY": -80, "direction": "horizontal", "columns": 6, "title": null, "symbolType": "M-2,0H2", "symbolSize": 324, "symbolStrokeWidth": 2, "labelFont": "Liberation Serif", "labelFontSize": 16, "labelColor": "black", "labelOffset": 22, "columnPadding": 30, "padding": 6, "strokeColor": "#cccccc", "cornerRadius": 4, "fillColor": "white"}}}},
 {"data": {"values": [{"label": "β =0.6", "logE": -5.83, "logL": 43.98}]}, "mark": {"type": "text", "align": "left", "baseline": "middle", "font": "Liberation Serif", "fontSize": 17, "color": "black"}, "encoding": {"x": {"field": "logE", "type": "quantitative", "scale": {"domain": [-6, 0.435], "nice": false, "zero": false}, "axis": null}, "y": {"field": "logL", "type": "quantitative", "scale": {"domain": [35.33, 45], "nice": false, "zero": false}, "axis": {"values": [37, 39, 41, 43, 45], "labelExpr": "'10' + (datum.value == 37 ? '³⁷' : datum.value == 39 ? '³⁹' : datum.value == 41 ? '⁴¹' : datum.value == 43 ? '⁴³' : '⁴⁵')", "title": "νFᵥ [erg/s]", "titlePadding": 17}}, "text": {"field": "label"}}}
], "resolve": {"scale": {"x": "independent"}, "axis": {"x": "independent"}}},
{"width": 277, "height": 212, "layer": [
 {"data": {"name": "bands"}, "mark": {"type": "rect", "color": "#fdbdfb", "clip": true}, "encoding": {"x": {"field": "logE0", "type": "quantitative", "scale": {"domain": [-6, 0.435], "nice": false, "zero": false}, "axis": {"orient": "top", "values": [-4.3834, -2.3834, -0.3834], "labelExpr": "datum.value < -3 ? '10¹³' : datum.value < -1 ? '10¹⁵' : '10¹⁷'", "title": "ν [Hz]", "titlePadding": 3}}, "x2": {"field": "logE1"}}},
 {"data": {"name": "bands"}, "mark": {"type": "text", "angle": 270, "align": "left", "baseline": "middle", "font": "Liberation Serif", "fontSize": 16, "color": "black"}, "encoding": {"x": {"field": "logEc", "type": "quantitative", "scale": {"domain": [-6, 0.435], "nice": false, "zero": false}, "axis": null}, "y": {"field": "logLt", "type": "quantitative", "scale": {"domain": [35.33, 45], "nice": false, "zero": false}, "axis": {"values": [37, 39, 41, 43, 45], "labelExpr": "'10' + (datum.value == 37 ? '³⁷' : datum.value == 39 ? '³⁹' : datum.value == 41 ? '⁴¹' : datum.value == 43 ? '⁴³' : '⁴⁵')", "title": null}}, "text": {"field": "band"}}},
 {"data": {"name": "curves"}, "transform": [{"filter": "datum.beta == 0.8"}], "mark": {"type": "line", "strokeWidth": 2, "clip": true, "interpolate": "basis"}, "encoding": {"x": {"field": "logE", "type": "quantitative", "scale": {"domain": [-6, 0.435], "nice": false, "zero": false}, "axis": {"orient": "bottom", "values": [-6, -4, -2, 0], "labelExpr": "datum.value == -6 ? '10⁻⁶' : datum.value == -4 ? '10⁻⁴' : datum.value == -2 ? '10⁻²' : '10⁰'", "title": null}}, "y": {"field": "logL", "type": "quantitative", "scale": {"domain": [35.33, 45], "nice": false, "zero": false}, "axis": {"values": [37, 39, 41, 43, 45], "labelExpr": "'10' + (datum.value == 37 ? '³⁷' : datum.value == 39 ? '³⁹' : datum.value == 41 ? '⁴¹' : datum.value == 43 ? '⁴³' : '⁴⁵')", "title": null}}, "color": {"field": "days", "type": "nominal", "scale": {"domain": ["10 days", "30 days", "45 days", "60 days", "75 days", "90 days"], "range": ["#8ec1de", "#69add5", "#4292c6", "#2878b8", "#1462a8", "#084a91"]}, "legend": {"orient": "none", "legendX": 36, "legendY": -80, "direction": "horizontal", "columns": 6, "title": null, "symbolType": "M-2,0H2", "symbolSize": 324, "symbolStrokeWidth": 2, "labelFont": "Liberation Serif", "labelFontSize": 16, "labelColor": "black", "labelOffset": 22, "columnPadding": 30, "padding": 6, "strokeColor": "#cccccc", "cornerRadius": 4, "fillColor": "white"}}}},
 {"data": {"values": [{"label": "β =0.8", "logE": -5.83, "logL": 43.98}]}, "mark": {"type": "text", "align": "left", "baseline": "middle", "font": "Liberation Serif", "fontSize": 17, "color": "black"}, "encoding": {"x": {"field": "logE", "type": "quantitative", "scale": {"domain": [-6, 0.435], "nice": false, "zero": false}, "axis": null}, "y": {"field": "logL", "type": "quantitative", "scale": {"domain": [35.33, 45], "nice": false, "zero": false}, "axis": {"values": [37, 39, 41, 43, 45], "labelExpr": "'10' + (datum.value == 37 ? '³⁷' : datum.value == 39 ? '³⁹' : datum.value == 41 ? '⁴¹' : datum.value == 43 ? '⁴³' : '⁴⁵')", "title": null}}, "text": {"field": "label"}}}
], "resolve": {"scale": {"x": "independent"}, "axis": {"x": "independent"}}},
{"width": 277, "height": 212, "layer": [
 {"data": {"name": "bands"}, "mark": {"type": "rect", "color": "#fdbdfb", "clip": true}, "encoding": {"x": {"field": "logE0", "type": "quantitative", "scale": {"domain": [-6, 0.435], "nice": false, "zero": false}, "axis": {"orient": "top", "values": [-4.3834, -2.3834, -0.3834], "labelExpr": "datum.value < -3 ? '10¹³' : datum.value < -1 ? '10¹⁵' : '10¹⁷'", "title": "ν [Hz]", "titlePadding": 3}}, "x2": {"field": "logE1"}}},
 {"data": {"name": "bands"}, "mark": {"type": "text", "angle": 270, "align": "left", "baseline": "middle", "font": "Liberation Serif", "fontSize": 16, "color": "black"}, "encoding": {"x": {"field": "logEc", "type": "quantitative", "scale": {"domain": [-6, 0.435], "nice": false, "zero": false}, "axis": null}, "y": {"field": "logLt", "type": "quantitative", "scale": {"domain": [35.33, 45], "nice": false, "zero": false}, "axis": {"values": [37, 39, 41, 43, 45], "labelExpr": "'10' + (datum.value == 37 ? '³⁷' : datum.value == 39 ? '³⁹' : datum.value == 41 ? '⁴¹' : datum.value == 43 ? '⁴³' : '⁴⁵')", "title": null}}, "text": {"field": "band"}}},
 {"data": {"name": "curves"}, "transform": [{"filter": "datum.beta == 1.0"}], "mark": {"type": "line", "strokeWidth": 2, "clip": true, "interpolate": "basis"}, "encoding": {"x": {"field": "logE", "type": "quantitative", "scale": {"domain": [-6, 0.435], "nice": false, "zero": false}, "axis": {"orient": "bottom", "values": [-6, -4, -2, 0], "labelExpr": "datum.value == -6 ? '10⁻⁶' : datum.value == -4 ? '10⁻⁴' : datum.value == -2 ? '10⁻²' : '10⁰'", "title": null}}, "y": {"field": "logL", "type": "quantitative", "scale": {"domain": [35.33, 45], "nice": false, "zero": false}, "axis": {"values": [37, 39, 41, 43, 45], "labelExpr": "'10' + (datum.value == 37 ? '³⁷' : datum.value == 39 ? '³⁹' : datum.value == 41 ? '⁴¹' : datum.value == 43 ? '⁴³' : '⁴⁵')", "title": null}}, "color": {"field": "days", "type": "nominal", "scale": {"domain": ["10 days", "30 days", "45 days", "60 days", "75 days", "90 days"], "range": ["#8ec1de", "#69add5", "#4292c6", "#2878b8", "#1462a8", "#084a91"]}, "legend": {"orient": "none", "legendX": 36, "legendY": -80, "direction": "horizontal", "columns": 6, "title": null, "symbolType": "M-2,0H2", "symbolSize": 324, "symbolStrokeWidth": 2, "labelFont": "Liberation Serif", "labelFontSize": 16, "labelColor": "black", "labelOffset": 22, "columnPadding": 30, "padding": 6, "strokeColor": "#cccccc", "cornerRadius": 4, "fillColor": "white"}}}},
 {"data": {"values": [{"label": "β =1.0", "logE": -5.83, "logL": 43.98}]}, "mark": {"type": "text", "align": "left", "baseline": "middle", "font": "Liberation Serif", "fontSize": 17, "color": "black"}, "encoding": {"x": {"field": "logE", "type": "quantitative", "scale": {"domain": [-6, 0.435], "nice": false, "zero": false}, "axis": null}, "y": {"field": "logL", "type": "quantitative", "scale": {"domain": [35.33, 45], "nice": false, "zero": false}, "axis": {"values": [37, 39, 41, 43, 45], "labelExpr": "'10' + (datum.value == 37 ? '³⁷' : datum.value == 39 ? '³⁹' : datum.value == 41 ? '⁴¹' : datum.value == 43 ? '⁴³' : '⁴⁵')", "title": null}}, "text": {"field": "label"}}}
], "resolve": {"scale": {"x": "independent"}, "axis": {"x": "independent"}}},
{"width": 277, "height": 212, "layer": [
 {"data": {"name": "bands"}, "mark": {"type": "rect", "color": "#fdbdfb", "clip": true}, "encoding": {"x": {"field": "logE0", "type": "quantitative", "scale": {"domain": [-6, 0.435], "nice": false, "zero": false}, "axis": null}, "x2": {"field": "logE1"}}},
 {"data": {"name": "bands"}, "mark": {"type": "text", "angle": 270, "align": "left", "baseline": "middle", "font": "Liberation Serif", "fontSize": 16, "color": "black"}, "encoding": {"x": {"field": "logEc", "type": "quantitative", "scale": {"domain": [-6, 0.435], "nice": false, "zero": false}, "axis": null}, "y": {"field": "logLt", "type": "quantitative", "scale": {"domain": [35.33, 45], "nice": false, "zero": false}, "axis": {"values": [37, 39, 41, 43, 45], "labelExpr": "'10' + (datum.value == 37 ? '³⁷' : datum.value == 39 ? '³⁹' : datum.value == 41 ? '⁴¹' : datum.value == 43 ? '⁴³' : '⁴⁵')", "title": "νFᵥ [erg/s]", "titlePadding": 17}}, "text": {"field": "band"}}},
 {"data": {"name": "curves"}, "transform": [{"filter": "datum.beta == 1.2"}], "mark": {"type": "line", "strokeWidth": 2, "clip": true, "interpolate": "basis"}, "encoding": {"x": {"field": "logE", "type": "quantitative", "scale": {"domain": [-6, 0.435], "nice": false, "zero": false}, "axis": {"orient": "bottom", "values": [-6, -4, -2, 0], "labelExpr": "datum.value == -6 ? '10⁻⁶' : datum.value == -4 ? '10⁻⁴' : datum.value == -2 ? '10⁻²' : '10⁰'", "title": "Energy [keV]", "titlePadding": 6}}, "y": {"field": "logL", "type": "quantitative", "scale": {"domain": [35.33, 45], "nice": false, "zero": false}, "axis": {"values": [37, 39, 41, 43, 45], "labelExpr": "'10' + (datum.value == 37 ? '³⁷' : datum.value == 39 ? '³⁹' : datum.value == 41 ? '⁴¹' : datum.value == 43 ? '⁴³' : '⁴⁵')", "title": "νFᵥ [erg/s]", "titlePadding": 17}}, "color": {"field": "days", "type": "nominal", "scale": {"domain": ["10 days", "30 days", "45 days", "60 days", "75 days", "90 days"], "range": ["#8ec1de", "#69add5", "#4292c6", "#2878b8", "#1462a8", "#084a91"]}, "legend": {"orient": "none", "legendX": 36, "legendY": -80, "direction": "horizontal", "columns": 6, "title": null, "symbolType": "M-2,0H2", "symbolSize": 324, "symbolStrokeWidth": 2, "labelFont": "Liberation Serif", "labelFontSize": 16, "labelColor": "black", "labelOffset": 22, "columnPadding": 30, "padding": 6, "strokeColor": "#cccccc", "cornerRadius": 4, "fillColor": "white"}}}},
 {"data": {"values": [{"label": "β =1.2", "logE": -5.83, "logL": 43.98}]}, "mark": {"type": "text", "align": "left", "baseline": "middle", "font": "Liberation Serif", "fontSize": 17, "color": "black"}, "encoding": {"x": {"field": "logE", "type": "quantitative", "scale": {"domain": [-6, 0.435], "nice": false, "zero": false}, "axis": null}, "y": {"field": "logL", "type": "quantitative", "scale": {"domain": [35.33, 45], "nice": false, "zero": false}, "axis": {"values": [37, 39, 41, 43, 45], "labelExpr": "'10' + (datum.value == 37 ? '³⁷' : datum.value == 39 ? '³⁹' : datum.value == 41 ? '⁴¹' : datum.value == 43 ? '⁴³' : '⁴⁵')", "title": "νFᵥ [erg/s]", "titlePadding": 17}}, "text": {"field": "label"}}}
], "resolve": {"scale": {"x": "independent"}, "axis": {"x": "independent"}}},
{"width": 277, "height": 212, "layer": [
 {"data": {"name": "bands"}, "mark": {"type": "rect", "color": "#fdbdfb", "clip": true}, "encoding": {"x": {"field": "logE0", "type": "quantitative", "scale": {"domain": [-6, 0.435], "nice": false, "zero": false}, "axis": null}, "x2": {"field": "logE1"}}},
 {"data": {"name": "bands"}, "mark": {"type": "text", "angle": 270, "align": "left", "baseline": "middle", "font": "Liberation Serif", "fontSize": 16, "color": "black"}, "encoding": {"x": {"field": "logEc", "type": "quantitative", "scale": {"domain": [-6, 0.435], "nice": false, "zero": false}, "axis": null}, "y": {"field": "logLt", "type": "quantitative", "scale": {"domain": [35.33, 45], "nice": false, "zero": false}, "axis": {"values": [37, 39, 41, 43, 45], "labelExpr": "'10' + (datum.value == 37 ? '³⁷' : datum.value == 39 ? '³⁹' : datum.value == 41 ? '⁴¹' : datum.value == 43 ? '⁴³' : '⁴⁵')", "title": null}}, "text": {"field": "band"}}},
 {"data": {"name": "curves"}, "transform": [{"filter": "datum.beta == 1.4"}], "mark": {"type": "line", "strokeWidth": 2, "clip": true, "interpolate": "basis"}, "encoding": {"x": {"field": "logE", "type": "quantitative", "scale": {"domain": [-6, 0.435], "nice": false, "zero": false}, "axis": {"orient": "bottom", "values": [-6, -4, -2, 0], "labelExpr": "datum.value == -6 ? '10⁻⁶' : datum.value == -4 ? '10⁻⁴' : datum.value == -2 ? '10⁻²' : '10⁰'", "title": "Energy [keV]", "titlePadding": 6}}, "y": {"field": "logL", "type": "quantitative", "scale": {"domain": [35.33, 45], "nice": false, "zero": false}, "axis": {"values": [37, 39, 41, 43, 45], "labelExpr": "'10' + (datum.value == 37 ? '³⁷' : datum.value == 39 ? '³⁹' : datum.value == 41 ? '⁴¹' : datum.value == 43 ? '⁴³' : '⁴⁵')", "title": null}}, "color": {"field": "days", "type": "nominal", "scale": {"domain": ["10 days", "30 days", "45 days", "60 days", "75 days", "90 days"], "range": ["#8ec1de", "#69add5", "#4292c6", "#2878b8", "#1462a8", "#084a91"]}, "legend": {"orient": "none", "legendX": 36, "legendY": -80, "direction": "horizontal", "columns": 6, "title": null, "symbolType": "M-2,0H2", "symbolSize": 324, "symbolStrokeWidth": 2, "labelFont": "Liberation Serif", "labelFontSize": 16, "labelColor": "black", "labelOffset": 22, "columnPadding": 30, "padding": 6, "strokeColor": "#cccccc", "cornerRadius": 4, "fillColor": "white"}}}},
 {"data": {"values": [{"label": "β =1.4", "logE": -5.83, "logL": 43.98}]}, "mark": {"type": "text", "align": "left", "baseline": "middle", "font": "Liberation Serif", "fontSize": 17, "color": "black"}, "encoding": {"x": {"field": "logE", "type": "quantitative", "scale": {"domain": [-6, 0.435], "nice": false, "zero": false}, "axis": null}, "y": {"field": "logL", "type": "quantitative", "scale": {"domain": [35.33, 45], "nice": false, "zero": false}, "axis": {"values": [37, 39, 41, 43, 45], "labelExpr": "'10' + (datum.value == 37 ? '³⁷' : datum.value == 39 ? '³⁹' : datum.value == 41 ? '⁴¹' : datum.value == 43 ? '⁴³' : '⁴⁵')", "title": null}}, "text": {"field": "label"}}}
], "resolve": {"scale": {"x": "independent"}, "axis": {"x": "independent"}}},
{"width": 277, "height": 212, "layer": [
 {"data": {"name": "bands"}, "mark": {"type": "rect", "color": "#fdbdfb", "clip": true}, "encoding": {"x": {"field": "logE0", "type": "quantitative", "scale": {"domain": [-6, 0.435], "nice": false, "zero": false}, "axis": null}, "x2": {"field": "logE1"}}},
 {"data": {"name": "bands"}, "mark": {"type": "text", "angle": 270, "align": "left", "baseline": "middle", "font": "Liberation Serif", "fontSize": 16, "color": "black"}, "encoding": {"x": {"field": "logEc", "type": "quantitative", "scale": {"domain": [-6, 0.435], "nice": false, "zero": false}, "axis": null}, "y": {"field": "logLt", "type": "quantitative", "scale": {"domain": [35.33, 45], "nice": false, "zero": false}, "axis": {"values": [37, 39, 41, 43, 45], "labelExpr": "'10' + (datum.value == 37 ? '³⁷' : datum.value == 39 ? '³⁹' : datum.value == 41 ? '⁴¹' : datum.value == 43 ? '⁴³' : '⁴⁵')", "title": null}}, "text": {"field": "band"}}},
 {"data": {"name": "curves"}, "transform": [{"filter": "datum.beta == 1.6"}], "mark": {"type": "line", "strokeWidth": 2, "clip": true, "interpolate": "basis"}, "encoding": {"x": {"field": "logE", "type": "quantitative", "scale": {"domain": [-6, 0.435], "nice": false, "zero": false}, "axis": {"orient": "bottom", "values": [-6, -4, -2, 0], "labelExpr": "datum.value == -6 ? '10⁻⁶' : datum.value == -4 ? '10⁻⁴' : datum.value == -2 ? '10⁻²' : '10⁰'", "title": "Energy [keV]", "titlePadding": 6}}, "y": {"field": "logL", "type": "quantitative", "scale": {"domain": [35.33, 45], "nice": false, "zero": false}, "axis": {"values": [37, 39, 41, 43, 45], "labelExpr": "'10' + (datum.value == 37 ? '³⁷' : datum.value == 39 ? '³⁹' : datum.value == 41 ? '⁴¹' : datum.value == 43 ? '⁴³' : '⁴⁵')", "title": null}}, "color": {"field": "days", "type": "nominal", "scale": {"domain": ["10 days", "30 days", "45 days", "60 days", "75 days", "90 days"], "range": ["#8ec1de", "#69add5", "#4292c6", "#2878b8", "#1462a8", "#084a91"]}, "legend": {"orient": "none", "legendX": 36, "legendY": -80, "direction": "horizontal", "columns": 6, "title": null, "symbolType": "M-2,0H2", "symbolSize": 324, "symbolStrokeWidth": 2, "labelFont": "Liberation Serif", "labelFontSize": 16, "labelColor": "black", "labelOffset": 22, "columnPadding": 30, "padding": 6, "strokeColor": "#cccccc", "cornerRadius": 4, "fillColor": "white"}}}},
 {"data": {"values": [{"label": "β =1.6", "logE": -5.83, "logL": 43.98}]}, "mark": {"type": "text", "align": "left", "baseline": "middle", "font": "Liberation Serif", "fontSize": 17, "color": "black"}, "encoding": {"x": {"field": "logE", "type": "quantitative", "scale": {"domain": [-6, 0.435], "nice": false, "zero": false}, "axis": null}, "y": {"field": "logL", "type": "quantitative", "scale": {"domain": [35.33, 45], "nice": false, "zero": false}, "axis": {"values": [37, 39, 41, 43, 45], "labelExpr": "'10' + (datum.value == 37 ? '³⁷' : datum.value == 39 ? '³⁹' : datum.value == 41 ? '⁴¹' : datum.value == 43 ? '⁴³' : '⁴⁵')", "title": null}}, "text": {"field": "label"}}}
], "resolve": {"scale": {"x": "independent"}, "axis": {"x": "independent"}}}
],
"config": {
 "font": "Liberation Serif",
 "view": {"stroke": "black", "strokeWidth": 1},
 "axis": {"grid": false, "domain": false, "labelFlush": false, "tickColor": "black", "tickSize": 6, "labelFont": "Liberation Serif", "labelFontSize": 16, "labelColor": "black", "titleFont": "Liberation Serif", "titleFontSize": 16, "titleFontWeight": "normal", "titleColor": "black"}
}
}
